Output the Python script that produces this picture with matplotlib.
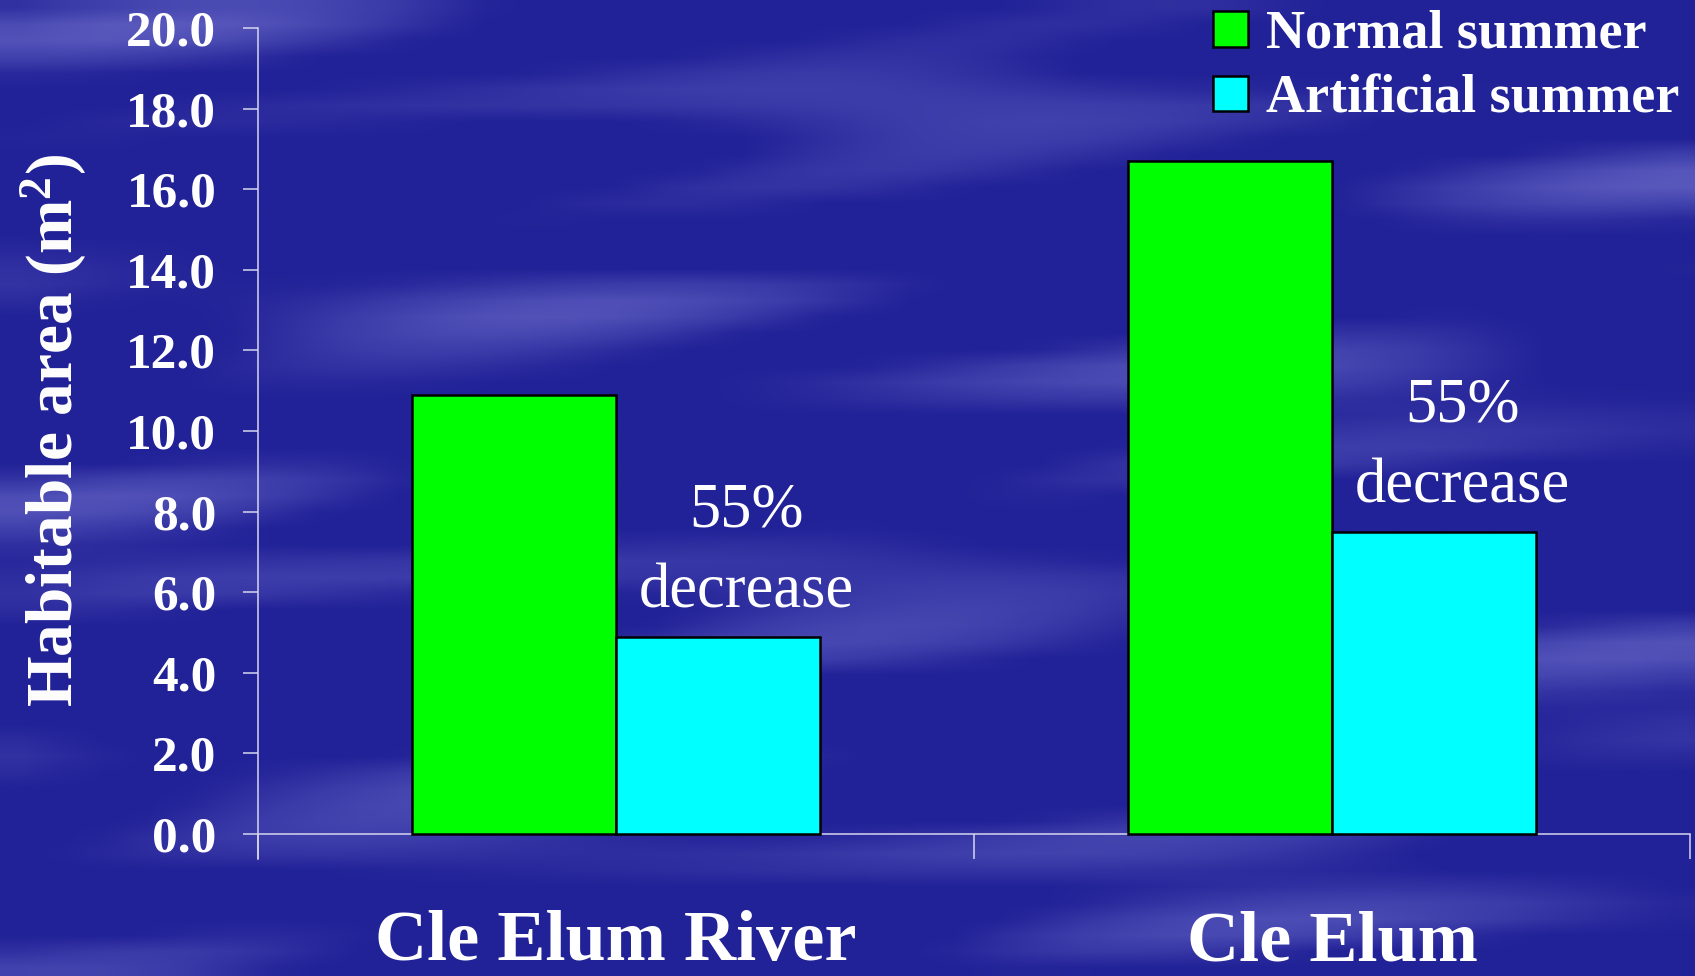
import numpy as np
import matplotlib
matplotlib.use("Agg")
import matplotlib.pyplot as plt

# DATA

categories = ["Cle Elum River", "Cle Elum"]
series_names = ["Normal summer", "Artificial summer"]
normal_summer = [10.9, 16.7]
artificial_summer = [4.9, 7.5]
y_ticks = [0, 2, 4, 6, 8, 10, 12, 14, 16, 18, 20]

plt.rcParams['font.family'] = ['Liberation Serif', 'DejaVu Serif']
plt.rcParams['mathtext.default'] = 'regular'

bg_dark = np.array([34, 34, 152]) / 255
bg_light = np.array([112, 112, 205]) / 255
axis_col = '#d6d6ee'

fig = plt.figure(figsize=(16.95, 9.76), dpi=100)
fig.patch.set_facecolor(bg_dark)

# streaky blue slide background
bg_ax = fig.add_axes([0, 0, 1, 1], zorder=-10)
ny, nx = 60, 40
yy, xx = np.mgrid[0:ny, 0:nx]
tex = (np.sin(xx * 0.29 + yy * 0.55) * np.sin(yy * 0.33 + 1.3)
       + 0.7 * np.sin(xx * 0.10 - yy * 0.41 + 2.0)
       + 0.3 * np.sin(yy * 1.1 + xx * 0.07))
tex = np.clip(tex - 0.1, 0, None)
tex = tex / tex.max() * 0.7
img = bg_dark[None, None, :] + tex[:, :, None] * (bg_light - bg_dark)[None, None, :]
bg_ax.imshow(img, aspect='auto', interpolation='bilinear', extent=[0, 1, 0, 1])
bg_ax.set_axis_off()

ax = fig.add_axes([258 / 1695, 1 - 859 / 976, 1432 / 1695, 831 / 976])
ax.patch.set_alpha(0)

x = np.arange(len(categories))
w = 0.285

ax.bar(x - w / 2, normal_summer, w, color='#00ff00', edgecolor='black', linewidth=1.8,
       label=series_names[0], zorder=3)
ax.bar(x + w / 2, artificial_summer, w, color='#00ffff', edgecolor='black', linewidth=1.8,
       label=series_names[1], zorder=3)

# percent decrease notes
for i in range(len(categories)):
    pct = round((1 - artificial_summer[i] / normal_summer[i]) * 100)
    ax.text(x[i] + w / 2 + 0.04, artificial_summer[i] + 2.73, f"{pct}%", color='white',
            fontsize=45, ha='center', va='baseline')
    ax.text(x[i] + w / 2 + 0.04, artificial_summer[i] + 0.72, "decrease", color='white',
            fontsize=45, ha='center', va='baseline')

ax.set_xlim(-0.5, 1.5)
ax.set_ylim(-0.62, 20)

for s in ['top', 'right']:
    ax.spines[s].set_visible(False)
ax.spines['bottom'].set_position(('data', 0))
ax.spines['left'].set_color(axis_col)
ax.spines['bottom'].set_color(axis_col)
ax.spines['left'].set_linewidth(1.1)
ax.spines['bottom'].set_linewidth(1.1)

ax.set_yticks(y_ticks, [f"{v:.1f}" for v in y_ticks])
ax.tick_params(axis='y', direction='out', length=11, width=1.1, color=axis_col,
               pad=19, labelsize=37, labelcolor='white')
for lbl in ax.get_yticklabels():
    lbl.set_fontweight('bold')

ax.set_xticks([-0.5, 0.5, 1.5], ['', '', ''])
ax.set_xticks(x, categories, minor=True)
ax.tick_params(axis='x', which='major', direction='out', length=18, width=1.1, color=axis_col)
ax.tick_params(axis='x', which='minor', length=0, pad=55, labelsize=52, labelcolor='white')
for lbl in ax.get_xticklabels(minor=True):
    lbl.set_fontweight('bold')

ax.set_ylabel('Habitable area (m$^{2}$)', fontsize=47, fontweight='bold', color='white')
ax.yaxis.set_label_coords(-0.118, 0.516)

fig.legend(loc='upper left', bbox_to_anchor=(1213 / 1695, 1 - 10 / 976), frameon=False,
           borderpad=0, borderaxespad=0, handlelength=0.64, handleheight=0.64,
           handletextpad=0.34, labelspacing=0.27,
           prop={'size': 39, 'weight': 'bold'}, labelcolor='white')

plt.savefig("out.png", dpi=100)
